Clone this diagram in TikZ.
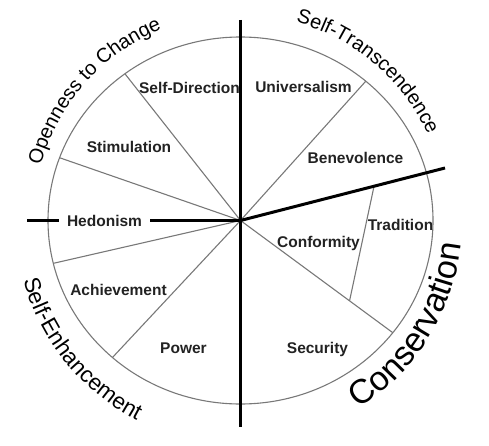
\documentclass[tikz,border=0pt]{standalone}
\usepackage{fontspec}
\setmainfont{Liberation Sans}
\usepackage{tikz}
\usetikzlibrary{decorations.text,calc}
\newcommand{\thickw}{3pt}
\newcommand{\thinw}{1.1pt}
\newcommand{\seglabel}{\bfseries\fontsize{15.5}{18}\selectfont}
\newcommand{\arclabel}[1]{\fontsize{#1}{#1}\selectfont}
\definecolor{rimgray}{HTML}{787878}
\definecolor{inkgray}{HTML}{222222}

\begin{document}
\begin{tikzpicture}[x=1pt,y=1pt,
  seg/.style={font=\seglabel, text=inkgray, anchor=base, inner sep=0pt},
  rim/.style={draw=rimgray, line width=\thinw},
  axis/.style={draw=black, line width=\thickw},
  arctext/.style={decorate, decoration={text along path, text align=center, text={#1}}}]
\useasboundingbox (0,0) rectangle (489,445);
        \coordinate (c) at (240.5,224.5);
        \coordinate (top) at (240.5,425);
        \coordinate (bottom) at (240.5,18);
        \coordinate (left) at (27,224.5);
        \coordinate (cons) at (445,277);
        \coordinate (sd) at ($(c)+(126.9:192.5 and 183.5)$);
        \coordinate (st) at ($(c)+(160:192.5 and 183.5)$);
        \coordinate (ha) at ($(c)+(193.5:192.5 and 183.5)$);
        \coordinate (ap) at ($(c)+(228.3:192.5 and 183.5)$);
        \coordinate (ub) at ($(c)+(49.4:192.5 and 183.5)$);
        \coordinate (cs) at ($(c)+(-37.7:192.5 and 183.5)$);
        \coordinate (trlo) at ($(c)!0.716!(cs)$);
        \coordinate (trhi) at ($(c)!0.653!(cons)$);

        \node (selfdir) at (189.5,351.4) [seg] {Self-Direction};
        \node (stim) at (129,292.4) [seg] {Stimulation};
        \node (hedo) at (104.5,218.4) [seg, inner xsep=8pt] {Hedonism};
        \node (achi) at (118.5,149.4) [seg] {Achievement};
        \node (power) at (183.5,91.4) [seg] {Power};
        \node (univ) at (303.5,352.4) [seg] {Universalism};
        \node (bene) at (355.5,281.4) [seg] {Benevolence};
        \node (trad) at (400.5,214.4) [seg] {Tradition};
        \node (conf) at (318.5,197.4) [seg] {Conformity};
        \node (secu) at (317.5,91.4) [seg] {Security};

        \draw[rim] (c) ellipse[x radius=192.5, y radius=183.5];
        \draw[rim]
        (c) to (sd) (c) to (st) (c) to (ha) (c) to (ap)
        (c) to (ub) (c) to (cs) (trlo) to (trhi);
        \draw[axis] (top) to (bottom);
        \draw[axis] (c) to (cons);
        \draw[axis] (left) to (left -| hedo.west) (c -| hedo.east) to (c);

        \path[arctext={|\arclabel{20}|Openness to Change}]
        (c) ++(178.5:207) arc[start angle=178.5, end angle=98.5, radius=207];
        \path[arctext={|\arclabel{20}|Self-Transcendence}]
        (c) ++(89.5:206) arc[start angle=89.5, end angle=9.5, radius=206];
        \path[arctext={|\arclabel{22.5}|Self-Enhancement}]
        (c) ++(179:225) arc[start angle=179, end angle=259, radius=225];
        \path[arctext={|\arclabel{34}|Conservation}]
        (c) ++(-72:222) arc[start angle=-72, end angle=8, radius=222];
\end{tikzpicture}
\end{document}
